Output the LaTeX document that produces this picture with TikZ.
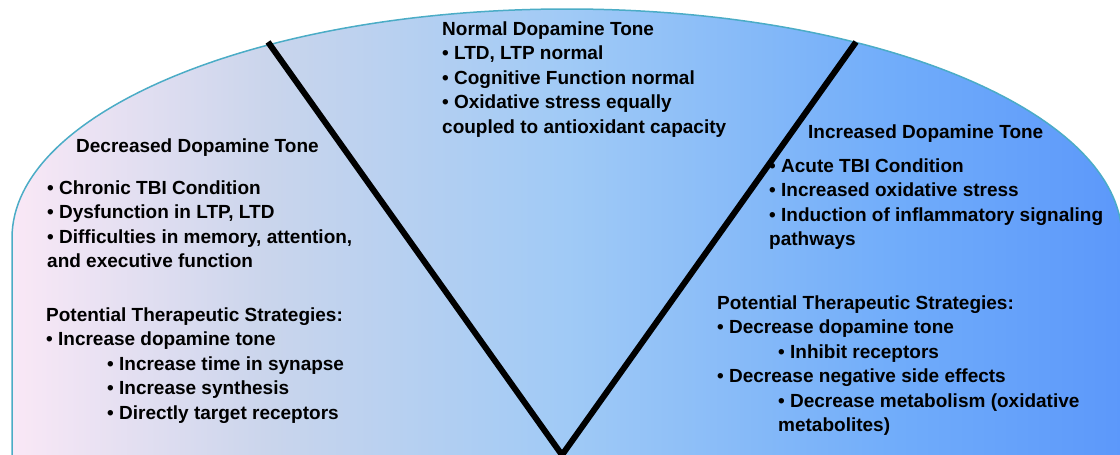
\documentclass[tikz,border=0pt]{standalone}
\usepackage{fontspec}
\setmainfont{Liberation Sans}

% colours of the dome gradient, left to right, and of its outline
\definecolor{domePink}{RGB}{250,232,246}
\definecolor{domeGrey}{RGB}{202,213,236}
\definecolor{domeSky}{RGB}{160,202,246}
\definecolor{domeMid}{RGB}{112,172,250}
\definecolor{domeDeep}{RGB}{92,152,250}
\definecolor{domeEdge}{RGB}{75,172,198}

\pgfdeclarehorizontalshading{domeshade}{100bp}{%
  color(0bp)=(domePink); color(25bp)=(domePink);
  color(36.5bp)=(domeGrey); color(50bp)=(domeSky);
  color(65bp)=(domeMid); color(75bp)=(domeDeep); color(100bp)=(domeDeep)}

% one line of a text block, and the indent of a sub-item
\newcommand\txtline[1]{\hbox{#1}}
\newcommand\subind{\hspace*{61pt}}
\newcommand\txtblock[1]{\vtop{\baselineskip=24.5pt #1}}

\begin{document}
\begin{tikzpicture}[x=1pt,y=-1pt,
  txt/.style={anchor=base west, inner sep=0pt,
    font=\fontsize{19}{24.5}\selectfont\bfseries},
  vline/.style={line width=6pt, black, line join=miter},
  domeedge/.style={draw=domeEdge, line width=1.5pt}]
\useasboundingbox (0,0) rectangle (1120,455);
\clip (0,0) rectangle (1120,455);

% the dome: straight sides under a half-ellipse
\path[shading=domeshade, domeedge]
  (12,470) -- (12,238)
  arc[start angle=180, end angle=360, x radius=555, y radius=229]
  -- (1122,470);

% decreased tone (left)
\node[txt] (decHead) at (76,152) {Decreased Dopamine Tone};
\node[txt] (decList) at (47,194) {\txtblock{%
  \txtline{• Chronic TBI Condition}%
  \txtline{• Dysfunction in LTP, LTD}%
  \txtline{• Difficulties in memory, attention,}%
  \txtline{and executive function}}};
\node[txt] (decStrat) at (46,321) {\txtblock{%
  \txtline{Potential Therapeutic Strategies:}%
  \txtline{• Increase dopamine tone}%
  \txtline{\subind• Increase time in synapse}%
  \txtline{\subind• Increase synthesis}%
  \txtline{\subind• Directly target receptors}}};

% normal tone (middle)
\node[txt] (normList) at (442,35) {\txtblock{%
  \txtline{Normal Dopamine Tone}%
  \txtline{• LTD, LTP normal}%
  \txtline{• Cognitive Function normal}%
  \txtline{• Oxidative stress equally}%
  \txtline{coupled to antioxidant capacity}}};

% increased tone (right)
\node[txt] (incHead) at (808,138) {Increased Dopamine Tone};
\node[txt] (incList) at (769,172) {\txtblock{%
  \txtline{• Acute TBI Condition}%
  \txtline{• Increased oxidative stress}%
  \txtline{• Induction of inflammatory signaling}%
  \txtline{pathways}}};
\node[txt] (incStrat) at (717,309) {\txtblock{%
  \txtline{Potential Therapeutic Strategies:}%
  \txtline{• Decrease dopamine tone}%
  \txtline{\subind• Inhibit receptors}%
  \txtline{• Decrease negative side effects}%
  \txtline{\subind• Decrease metabolism (oxidative}%
  \txtline{\subind metabolites)}}};

% the V dividing the three states
\coordinate (vl) at (268,42);
\coordinate (vb) at (562,455);
\coordinate (vr) at (856,42);
\draw[vline] (vl) -- (vb) -- (vr);
\end{tikzpicture}
\end{document}
